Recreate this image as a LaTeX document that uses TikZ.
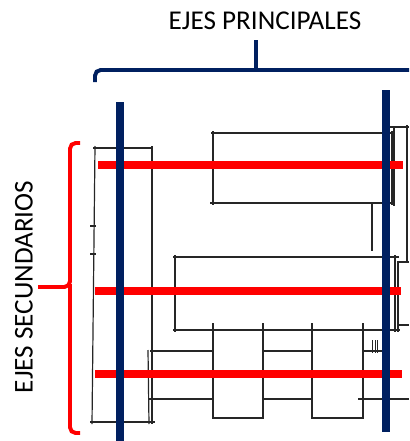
\documentclass[tikz,border=0pt]{standalone}
\usepackage{fontspec}
\setmainfont{Carlito}
\definecolor{ejeAzul}{RGB}{0,32,96}
\definecolor{ejeRojo}{RGB}{255,0,0}
\begin{document}
\begin{tikzpicture}[
    x=0.025cm, y=-0.025cm,
    ejeMain/.style={draw=ejeAzul,line width=5.6pt},
    ejeSec/.style={draw=ejeRojo,line width=5pt},
    braceMain/.style={draw=ejeAzul,line width=2.8pt,rounded corners=4},
    braceSec/.style={draw=ejeRojo,line width=2.8pt,rounded corners=4},
    sketchLine/.style={draw=black!85,line width=0.85pt},
    ejeLabel/.style={font=\fontsize{19.3}{23}\selectfont,inner sep=0pt},
]
\useasboundingbox (0,0) rectangle (409,441);
% === titulos ===
\node[ejeLabel] (PRIN) at (265,21) {EJES PRINCIPALES};
\node[ejeLabel,rotate=90] (SEC) at (24,287) {EJES SECUNDARIOS};
% === llaves ===
\coordinate (stemTop) at (256,40);
\draw[braceMain] (95,82) -- (95,70) -- (409,70);
\draw[braceMain] (stemTop) -- (256,70);
\draw[braceSec] (80,143) -- (70,143) -- (70,287) -- (38,287);
\draw[braceSec] (70,284) -- (70,433) -- (80,433);
% === croquis ===
% bloque izquierdo
\draw[sketchLine] (93,148) -- (153,148);
\draw[sketchLine] (95,146) -- (92,424);
\draw[sketchLine] (152,146) -- (152,424);
\draw[sketchLine] (90,422) -- (155,422);
\draw[sketchLine] (148,350) -- (149,424);
\draw[sketchLine] (90,226) -- (96,226);
\draw[sketchLine] (90,254) -- (96,254);
% bloque superior
\draw[sketchLine] (211,133) -- (394,133);
\draw[sketchLine] (213,131) -- (213,205);
\draw[sketchLine] (210,203) -- (394,203);
\draw[sketchLine] (392,131) -- (392,205);
\draw[sketchLine] (394,128) -- (394,206);
\draw[sketchLine] (390,127) -- (409,127);
\draw[sketchLine] (407,125) -- (407,262);
\draw[sketchLine] (372,203) -- (372,251);
% bloque medio
\draw[sketchLine] (173,257) -- (399,257);
\draw[sketchLine] (175,255) -- (175,332);
\draw[sketchLine] (173,330) -- (400,330);
\draw[sketchLine] (395,255) -- (395,332);
\draw[sketchLine] (397,262) -- (409,262);
\draw[sketchLine] (398,262) -- (398,332);
\draw[sketchLine] (397,325) -- (409,325);
% bloque inferior
\foreach \xc in {213,263,312,363}
    \draw[sketchLine] (\xc,323) -- (\xc,419);
\draw[sketchLine] (150,351) -- (213,351);
\draw[sketchLine] (263,351) -- (312,351);
\draw[sketchLine] (363,351) -- (385,351);
\draw[sketchLine] (148,399) -- (213,399);
\draw[sketchLine] (263,399) -- (312,399);
\draw[sketchLine] (358,399) -- (409,399);
\draw[sketchLine] (213,418) -- (263,418);
\draw[sketchLine] (312,418) -- (363,418);
\foreach \xc in {372,375,377}
    \draw[sketchLine,line width=0.4pt] (\xc,340) -- (\xc,353);
% === ejes secundarios ===
\draw[ejeSec] (98,165) -- (403,165);
\draw[ejeSec] (95,291) -- (401,291);
\draw[ejeSec] (95,374) -- (402,374);
% === ejes principales ===
\draw[ejeMain] (120,102) -- (120,441);
\draw[ejeMain] (386,90) -- (386,432);
\end{tikzpicture}
\end{document}
